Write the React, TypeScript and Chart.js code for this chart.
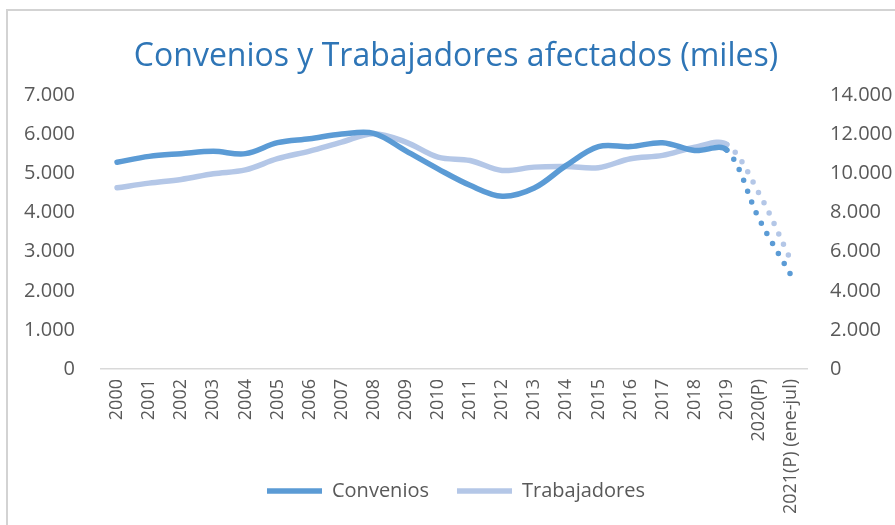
import React, { useEffect, useRef } from "react";
import { Chart, registerables } from "chart.js";

Chart.register(...registerables);

const categories = [
  "2000", "2001", "2002", "2003", "2004", "2005", "2006", "2007", "2008", "2009",
  "2010", "2011", "2012", "2013", "2014", "2015", "2016", "2017", "2018", "2019",
  "2020(P)", "2021(P) (ene-jul)",
];

const convenios = [
  5290, 5440, 5510, 5570, 5510, 5790, 5890, 6010, 6030, 5580,
  5120, 4700, 4420, 4630, 5210, 5690, 5690, 5790, 5590, 5600,
  3850, 2400,
];

const trabajadores = [
  9270, 9510, 9700, 9990, 10190, 10760, 11150, 11610, 12040, 11610,
  10840, 10670, 10160, 10330, 10360, 10300, 10760, 10930, 11350, 11490,
  9000, 5550,
];

const leftTicks = { min: 0, max: 7000, step: 1000 };
const rightTicks = { min: 0, max: 14000, step: 2000 };
const provisionalFrom = 19;

const DARK = "#5B9BD5";
const LIGHT = "#B4C7E7";
const TEXT = "#595959";
const FONT = "'Open Sans', sans-serif";

const fmt = (v: number) => String(v).replace(/\B(?=(\d{3})+(?!\d))/g, ".");

export default function App() {
  const ref = useRef<HTMLCanvasElement>(null);

  useEffect(() => {
    if (!ref.current) return;
    const dotted = (ctx: any) => (ctx.p0DataIndex >= provisionalFrom ? [0, 11.6] : undefined);
    const chart = new Chart(ref.current, {
      type: "line",
      data: {
        labels: categories,
        datasets: [
          {
            label: "Convenios",
            data: convenios,
            yAxisID: "y",
            borderColor: DARK,
            backgroundColor: DARK,
            borderWidth: 5.5,
            borderCapStyle: "round",
            borderJoinStyle: "round",
            pointRadius: 0,
            tension: 0.35,
            segment: { borderDash: dotted },
          },
          {
            label: "Trabajadores",
            data: trabajadores,
            yAxisID: "y1",
            borderColor: LIGHT,
            backgroundColor: LIGHT,
            borderWidth: 5.5,
            borderCapStyle: "round",
            borderJoinStyle: "round",
            pointRadius: 0,
            tension: 0.35,
            segment: { borderDash: dotted },
          },
        ],
      },
      options: {
        responsive: false,
        animation: false,
        layout: { padding: { left: 0, right: 0, top: 0, bottom: 23 } },
        plugins: {
          title: {
            display: true,
            text: "Convenios y Trabajadores afectados (miles)",
            color: "#2E75B6",
            font: { family: FONT, size: 32, weight: "normal" },
            padding: { top: 29, bottom: 19 },
          },
          legend: {
            position: "bottom",
            labels: {
              usePointStyle: true,
              pointStyle: "line",
              pointStyleWidth: 55,
              color: TEXT,
              font: { family: FONT, size: 20 },
              padding: 28,
            },
          },
          tooltip: { enabled: false },
        },
        scales: {
          x: {
            offset: true,
            grid: { display: false, drawTicks: false },
            border: { display: true, color: "#D9D9D9", width: 1.5 },
            ticks: {
              color: TEXT,
              font: { family: FONT, size: 18 },
              maxRotation: 90,
              minRotation: 90,
              autoSkip: false,
              padding: 10,
            },
            afterFit: (s: any) => {
              s.height = 84;
              s._computeLabelArea = () => undefined;
            },
          },
          y: {
            position: "left",
            min: leftTicks.min,
            max: leftTicks.max,
            grid: { display: false, drawTicks: false },
            border: { display: false },
            ticks: {
              stepSize: leftTicks.step,
              color: TEXT,
              font: { family: FONT, size: 20 },
              padding: 26,
              callback: (v: any) => fmt(Number(v)),
            },
            afterFit: (s: any) => { s.width = 95; },
          },
          y1: {
            position: "right",
            min: rightTicks.min,
            max: rightTicks.max,
            grid: { display: false, drawTicks: false },
            border: { display: false },
            ticks: {
              stepSize: rightTicks.step,
              color: TEXT,
              font: { family: FONT, size: 20 },
              padding: 23,
              callback: (v: any) => fmt(Number(v)),
            },
            afterFit: (s: any) => { s.width = 99; },
          },
        },
      },
    } as any);
    return () => chart.destroy();
  }, []);

  return (
    <div style={{ position: "fixed", left: 0, top: 0, width: 895, height: 525, overflow: "hidden", background: "#fff" }}>
      <canvas
        ref={ref}
        width={900}
        height={525}
        style={{ position: "absolute", left: 6, top: 9, width: 900, height: 525 }}
      />
      <div
        style={{
          position: "absolute",
          left: 6,
          top: 9,
          width: 900,
          height: 540,
          border: "2px solid #D3D3D3",
          pointerEvents: "none",
        }}
      />
    </div>
  );
}
